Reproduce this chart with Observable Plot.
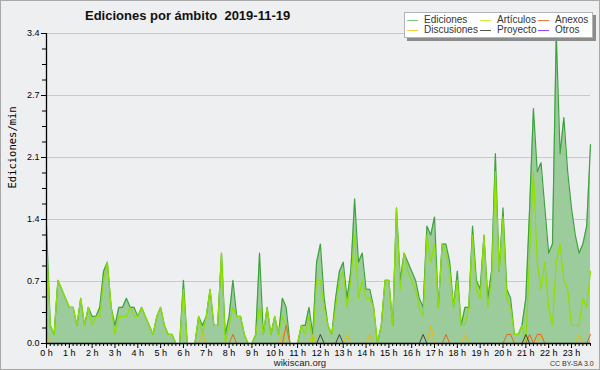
<!DOCTYPE html>
<html>
<head>
<meta charset="utf-8">
<script src="https://cdn.jsdelivr.net/npm/d3@7"></script>
<script src="https://cdn.jsdelivr.net/npm/@observablehq/plot@0.6"></script>
<style>
  html, body { margin: 0; padding: 0; background: #eeeff0; }
  #wrap { position: relative; width: 600px; height: 370px; background: #eeeff0; overflow: hidden;
          font-family: "Liberation Sans", Arial, sans-serif; }
  #wrap svg { position: absolute; left: 0; top: 0; }
  #frame { position: absolute; left: 0; top: 0; width: 600px; height: 370px; box-sizing: border-box;
           border: 1px solid #a8a8a8; pointer-events: none; }
  #title { position: absolute; left: 85px; top: 9px; font-weight: bold; font-size: 13px; line-height: 13px;
           color: #111; white-space: pre; }
  #legend { position: absolute; left: 404px; top: 12px; width: 187px; height: 24px; background: #fff;
            border: 1px solid #b4b4b4; box-shadow: 3px 3px 0 #8c8c8c; }
  .li { position: absolute; height: 10px; font-size: 10px; line-height: 10px; color: #333; white-space: nowrap; }
  .li .sw { position: absolute; left: 0; top: 5px; width: 11px; height: 1px; }
  .li .tx { position: absolute; left: 17px; top: 0; }
  #foot { position: absolute; left: 0; top: 357px; width: 600px; text-align: center; font-size: 9.5px; color: #222; }
  #cc { position: absolute; left: 550px; top: 360px; font-size: 7px; color: #333; white-space: nowrap; }
</style>
</head>
<body>
<div id="wrap">
  <div id="title"></div>
  <div id="legend"></div>
  <div id="foot"></div>
  <div id="cc"></div>
  <div id="frame"></div>
</div>
<script>
// ---- data (edits per minute, 10-minute steps from 0:00 to 23:50) ----
const titleText = "Ediciones por ámbito  2019-11-19";
const yAxisTitle = "Ediciones/min";
const footerText = "wikiscan.org";
const licenseText = "CC BY-SA 3.0";

const ediciones = [
  1.3,0.2,0.1,0.7,0.6,0.5,0.4,0.4,0.2,0.5,0.2,0.4,
  0.3,0.3,0.4,0.8,0.9,0.4,0.2,0.4,0.4,0.5,0.4,0.4,
  0.3,0.4,0.3,0.2,0.1,0.3,0.4,0.2,0.1,0.1,0,0,
  0.7,0,0,0,0.3,0.2,0.3,0.6,0.2,0.2,1.0,0.1,
  0.3,0.7,0.3,0.3,0.1,0,0,0.1,1.0,0.1,0.4,0.1,
  0.3,0.1,0.5,0.4,0,0,0,0.2,0.2,0.4,0.1,0.9,
  1.1,0.5,0.2,0.1,0.5,0.8,0.9,0.5,0.8,1.6,0.9,1.0,
  0.6,0.6,0.4,0,0.2,0.7,0.7,0.2,1.5,0.7,1.0,0.9,
  0.8,0.7,0.5,0.4,1.3,1.2,1.4,0.4,1.1,1.1,0.9,0.4,
  0.8,0.2,0.4,0.4,1.3,0.7,0.6,1.2,0.5,0.8,2.1,0.8,
  1.5,0.6,0.5,0.1,0.1,0.2,0.5,1.5,2.6,1.9,2.0,1.5,
  1.0,1.1,3.43,2.1,2.5,1.9,1.5,1.2,1.0,1.1,1.3,2.2
];
const articulos = [
  1.1,0.2,0.1,0.7,0.6,0.5,0.4,0.4,0.2,0.5,0.2,0.4,
  0.2,0.3,0.3,0.7,0.9,0.4,0.1,0.3,0.3,0.3,0.4,0.3,
  0.3,0.4,0.3,0.2,0.1,0.3,0.4,0.2,0.1,0.1,0,0,
  0.6,0,0,0,0.3,0.1,0.3,0.6,0.2,0.2,1.0,0,
  0.2,0.4,0.3,0.3,0.1,0,0,0.1,0.4,0.1,0.4,0.1,
  0.3,0.1,0.3,0.2,0,0,0,0.2,0.1,0.3,0,0.7,
  0.7,0.4,0.2,0.1,0.4,0.7,0.8,0.4,0.7,1.2,0.5,0.7,
  0.5,0.5,0.4,0,0.2,0.7,0.7,0.2,1.5,0.6,1.0,0.8,
  0.7,0.6,0.4,0.3,1.2,0.9,1.1,0.4,1.1,1.0,0.8,0.4,
  0.7,0.2,0.2,0.4,1.2,0.6,0.5,1.2,0.4,0.7,1.9,0.8,
  1.4,0.5,0.4,0.1,0.1,0.2,0,1.0,1.9,0.9,0.6,0.9,
  0.4,0.2,0.9,1.1,0.7,0.6,0.2,0.2,0.2,0.5,0.4,0.8
];
const anexos = [
  0,0,0,0,0,0,0,0,0,0,0,0,
  0,0,0,0,0,0,0,0,0,0,0,0,
  0,0,0,0,0,0,0,0,0,0,0,0,
  0,0,0,0,0,0,0,0,0,0,0,0,
  0,0.1,0,0,0,0,0,0,0,0,0,0,
  0,0,0,0.2,0,0,0,0,0,0,0,0,
  0,0,0,0,0,0,0,0,0,0,0,0,
  0,0,0,0,0,0,0,0,0,0,0,0,
  0,0,0,0,0,0,0,0,0,0.1,0,0,
  0,0,0,0,0,0,0,0,0,0,0,0,
  0,0.1,0.1,0,0,0,0,0.1,0,0.1,0.1,0,
  0,0,0,0,0,0,0,0,0,0,0,0.1
];
const discusiones = [
  0.1,0,0,0,0,0,0,0,0,0,0,0,
  0,0,0,0,0,0,0,0,0,0,0,0,
  0,0,0,0,0,0,0,0,0,0,0,0,
  0,0,0,0,0,0.1,0,0,0,0,0,0,
  0,0,0,0,0,0,0,0,0,0,0,0,
  0,0,0.1,0,0,0,0,0,0,0,0.1,0,
  0,0,0,0,0,0,0,0.1,0,0,0,0,
  0,0.1,0,0,0,0,0,0,0,0,0,0,
  0,0,0,0,0,0.2,0,0,0,0,0,0,
  0,0,0.1,0,0,0,0,0,0,0,0,0,
  0,0,0,0,0,0,0,0,0,0,0.1,0,
  0,0,0,0,0,0,0,0,0.1,0,0,0
];
const proyecto = [
  0,0,0,0,0,0,0,0,0,0,0,0,
  0,0,0,0,0,0,0,0,0,0,0,0,
  0,0,0,0,0,0,0,0,0,0,0,0,
  0,0,0,0,0,0,0,0,0,0,0,0,
  0,0,0,0,0,0,0,0,0,0,0,0,
  0,0,0,0,0,0,0,0,0,0,0,0,
  0.1,0,0,0,0,0.1,0,0,0,0,0,0,
  0,0,0,0,0,0,0,0,0,0,0,0,
  0,0,0,0.1,0,0,0,0,0,0,0,0,
  0,0,0,0,0,0,0,0,0,0,0,0,
  0,0,0,0,0,0,0.1,0,0,0,0,0,
  0,0,0,0,0,0,0,0,0,0,0,0
];
const otros = [
  0,0,0,0,0,0,0,0,0,0,0,0,
  0,0,0,0,0,0,0,0,0,0,0,0,
  0,0,0,0,0,0,0,0,0,0,0,0,
  0,0,0,0,0,0,0,0,0,0,0,0,
  0,0,0,0,0,0,0,0,0,0,0,0,
  0,0,0,0,0,0,0,0,0,0,0,0,
  0,0,0,0,0,0,0,0,0,0,0,0,
  0,0,0,0,0,0,0,0,0,0,0,0,
  0,0,0,0,0,0,0,0,0,0,0,0,
  0,0,0,0,0,0,0,0,0,0,0,0,
  0,0,0,0,0,0,0,0,0,0,0,0,
  0,0,0,0,0,0,0,0,0,0,0,0
];
const xTickLabels = ["0 h","1 h","2 h","3 h","4 h","5 h","6 h","7 h","8 h","9 h","10 h","11 h",
                     "12 h","13 h","14 h","15 h","16 h","17 h","18 h","19 h","20 h","21 h","22 h","23 h"];
const yTickLabels = ["0.0","0.7","1.4","2.1","2.7","3.4"];
const legendNames = ["Ediciones","Artículos","Anexos","Discusiones","Proyecto","Otros"];
const legendColors = ["#7ccc7c","#c8f046","#f0783a","#f8cc3a","#555555","#9a44ee"];

// ---- build ----
const stepHours = 10 / 60;
const rows = ediciones.map((e, i) => ({
  t: i * stepHours, ed: e, art: articulos[i], an: anexos[i], di: discusiones[i], pr: proyecto[i], ot: otros[i]
}));
const yMax = d3.max(ediciones);
const yMajor = yTickLabels.map((_, k) => yMax * k / (yTickLabels.length - 1));
const yLabelOf = new Map(yMajor.map((v, k) => [v, yTickLabels[k]]));
const yMinor = d3.range(0, 21).map(k => yMax * k / 20).filter((_, k) => k % 4 !== 0);
const hourTicks = xTickLabels.map((_, h) => h);
const minorX = rows.map(r => r.t).filter((_, i) => i % 6 !== 0);
const xMax = (ediciones.length - 1) * stepHours;

const chart = Plot.plot({
  width: 600, height: 370,
  marginLeft: 46, marginRight: 10, marginTop: 33, marginBottom: 27,
  style: { background: "transparent", fontFamily: "Liberation Sans, Arial, sans-serif", fontSize: "9px", color: "#000" },
  x: { domain: [0, xMax], axis: null, label: null },
  y: { domain: [0, yMax], axis: null, label: null },
  marks: [
    Plot.gridY(yMajor, { stroke: "#c9c9c9", strokeOpacity: 1 }),
    Plot.areaY(rows, { x: "t", y: "ed", fill: "#9ccb9c" }),
    Plot.lineY(rows, { x: "t", y: "ed", stroke: "#3ea23e", strokeWidth: 1.2 }),
    Plot.lineY(rows, { x: "t", y: "art", stroke: "#8ee000", strokeWidth: 1.2 }),
    Plot.lineY(rows, { x: "t", y: "di", stroke: "#f2b800", strokeWidth: 1 }),
    Plot.lineY(rows, { x: "t", y: "an", stroke: "#e8661c", strokeWidth: 1 }),
    Plot.lineY(rows, { x: "t", y: "pr", stroke: "#444444", strokeWidth: 1 }),
    Plot.lineY(rows, { x: "t", y: "ot", stroke: "#9a44ee", strokeWidth: 1 }),
    Plot.ruleX([0], { stroke: "#000", strokeWidth: 1.3 }),
    Plot.ruleY([0], { stroke: "#000", strokeWidth: 1.3 }),
    Plot.axisY(yMajor, { tickSize: 5, tickPadding: 2, tickFormat: d => yLabelOf.get(d), label: null, stroke: "#000" }),
    Plot.axisY(yMinor, { tickSize: 4, tickFormat: () => "", label: null, stroke: "#000" }),
    Plot.axisX(hourTicks, { tickSize: 5, tickPadding: 1, tickFormat: d => xTickLabels[d], label: null, stroke: "#000" }),
    Plot.axisX(minorX, { tickSize: 3, tickFormat: () => "", label: null, stroke: "#000" }),
    Plot.text([yAxisTitle], { frameAnchor: "left", rotate: -90, dx: -34, fontSize: 10.5,
                              fontFamily: "DejaVu Sans Mono, monospace", fill: "#000" })
  ]
});
document.getElementById("wrap").insertBefore(chart, document.getElementById("title"));

document.getElementById("title").textContent = titleText;
document.getElementById("foot").textContent = footerText;
document.getElementById("cc").textContent = licenseText;

const legend = document.getElementById("legend");
const colX = [2, 75, 133];
const rowY = [2, 12];
legendNames.forEach((name, k) => {
  const item = document.createElement("div");
  item.className = "li";
  item.style.left = colX[k % 3] + "px";
  item.style.top = rowY[Math.floor(k / 3)] + "px";
  const sw = document.createElement("span");
  sw.className = "sw";
  sw.style.background = legendColors[k];
  const tx = document.createElement("span");
  tx.className = "tx";
  tx.textContent = name;
  item.appendChild(sw);
  item.appendChild(tx);
  legend.appendChild(item);
});
</script>
</body>
</html>
